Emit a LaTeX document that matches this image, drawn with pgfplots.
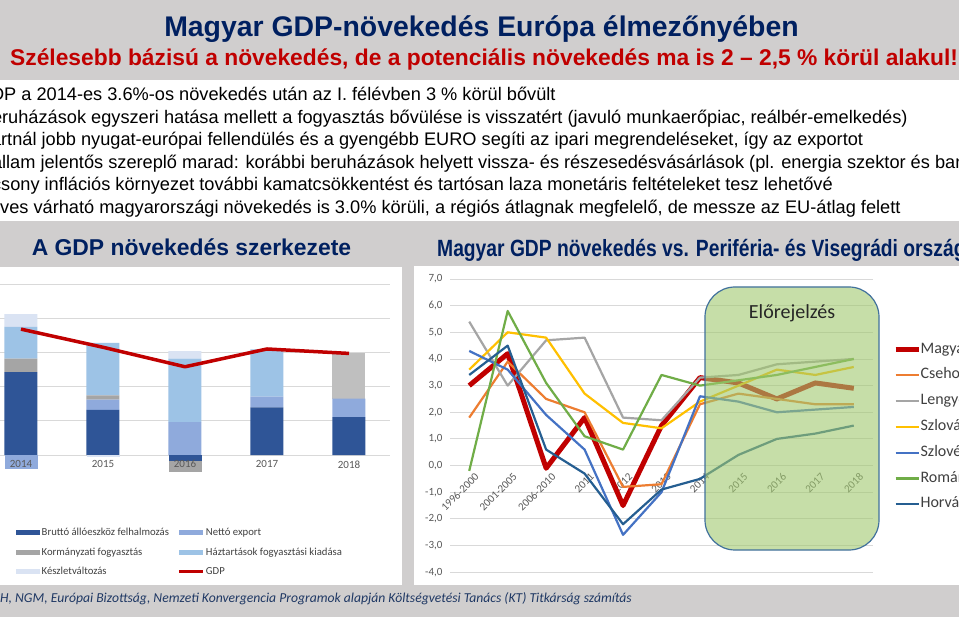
\documentclass[border=0pt]{standalone}
\usepackage{fontspec}
\setmainfont{Liberation Sans}
\newfontfamily\calibri{Carlito}
\usepackage{pgfplots}
\pgfplotsset{compat=1.18}

\definecolor{hdrgray}{RGB}{208,206,206}
\definecolor{navy}{RGB}{0,32,96}
\definecolor{darkred}{RGB}{192,0,0}
\definecolor{gridc}{RGB}{217,217,217}
\definecolor{ticktext}{RGB}{89,89,89}
\definecolor{legtext}{RGB}{64,64,64}
\definecolor{brutto}{RGB}{47,85,151}
\definecolor{netto}{RGB}{143,170,220}
\definecolor{korm}{RGB}{165,165,165}
\definecolor{korm2}{RGB}{191,191,191}
\definecolor{haztart}{RGB}{157,195,230}
\definecolor{keszlet}{RGB}{218,227,243}
\definecolor{cseh}{RGB}{237,125,49}
\definecolor{lengy}{RGB}{165,165,165}
\definecolor{szlovak}{RGB}{255,192,0}
\definecolor{szloven}{RGB}{68,114,196}
\definecolor{roman}{RGB}{112,173,71}
\definecolor{horvat}{RGB}{37,94,145}
\definecolor{boxfill}{RGB}{160,200,110}
\definecolor{boxline}{RGB}{65,113,156}
\definecolor{footc}{RGB}{31,56,100}

\pgfplotsset{
  leftax/.style={at={(-20pt,-455pt)}, anchor=south west, scale only axis,
    width=410pt, height=171pt, xmin=-0.5, xmax=4.5, ymin=0, ymax=5, clip=false},
}

\begin{document}
\begin{tikzpicture}
\useasboundingbox (0pt,0pt) rectangle (959pt,-617pt);
\clip (0pt,0pt) rectangle (959pt,-617pt);

% slide backgrounds
\fill[hdrgray] (0pt,0pt) rectangle (959pt,-80pt);
\fill[hdrgray] (0pt,-221pt) rectangle (959pt,-617pt);
\fill[white] (0pt,-267pt) rectangle (402pt,-585pt);
\fill[white] (414pt,-266pt) rectangle (959pt,-585pt);

% header
\node[anchor=base, inner sep=0pt, font=\fontsize{28.4}{32}\selectfont\bfseries, text=navy]
  at (481.5pt,-36.7pt) {Magyar GDP-növekedés Európa élmezőnyében};
\node[anchor=base west, inner sep=0pt, font=\fontsize{22.8}{26}\selectfont\bfseries, text=darkred]
  at (10pt,-65.7pt) {Szélesebb bázisú a növekedés, de a potenciális növekedés ma is 2 – 2,5 \% körül alakul!};

% bullet text
\begin{scope}[every node/.style={anchor=base west, inner sep=0pt, font=\fontsize{18.2}{21}\selectfont}]
\node at (4pt,-101pt) {\llap{A GD}P a 2014-es 3.6\%-os növekedés után az I. félévben 3 \% körül bővült};
\node at (2pt,-123.5pt) {\llap{A be}ruházások egyszeri hatása mellett a fogyasztás bővülése is visszatért (javuló munkaerőpiac, reálbér-emelkedés)};
\node at (1pt,-146pt) {\llap{A vá}rtnál jobb nyugat-európai fellendülés és a gyengébb EURO segíti az ipari megrendeléseket, így az exportot};
\node at (6pt,-168.5pt) {\llap{Az ál}lam jelentős szereplő marad: korábbi beruházások helyett vissza- és részesedésvásárlások (pl. energia szektor és bankok)};
\node at (1pt,-191pt) {\llap{Az alac}sony inflációs környezet további kamatcsökkentést és tartósan laza monetáris feltételeket tesz lehetővé};
\node at (0pt,-213.5pt) {\llap{Az é}ves várható magyarországi növekedés is 3.0\% körüli, a régiós átlagnak megfelelő, de messze az EU-átlag felett};
\end{scope}

% panel titles
\node[anchor=base, inner sep=0pt, font=\fontsize{22.9}{26}\selectfont\bfseries, text=navy]
  at (191.5pt,-256pt) {A GDP növekedés szerkezete};
\node[anchor=base west, inner sep=0pt, font=\fontsize{23.5}{26}\selectfont\bfseries, text=navy]
  at (437pt,-257pt) {\scalebox{0.82}[1]{Magyar GDP növekedés vs. Periféria- és Visegrádi országok}};

% footer
\node[anchor=base east, inner sep=0pt, font=\calibri\itshape\fontsize{13.65}{17}\selectfont, text=footc]
  at (632pt,-602pt) {Forrás: KSH, NGM, Európai Bizottság, Nemzeti Konvergencia Programok alapján Költségvetési Tanács (KT) Titkárság számítás};

% ---- left chart: grid and positive parts of the stack
\begin{axis}[leftax, ybar stacked, bar width=33pt,
  xtick={0,...,4}, xticklabels={},
  ytick={0,...,5}, yticklabels={}, ymajorgrids,
  grid style={gridc, line width=0.9pt},
  axis line style={draw=none}, major tick length=0pt,
  legend columns=2, legend cell align=left,
  legend image code/.code={\fill[#1] (0pt,-2.5pt) rectangle (24pt,2.5pt);},
  legend style={at={(0.0878,-0.4152)}, anchor=north west, draw=none, fill=none,
    inner sep=0pt, font=\calibri\fontsize{10.7}{13}\selectfont, text=legtext,
    row sep=6pt, nodes={inner sep=1.5pt, text height=8pt, text depth=2.5pt},
    /tikz/every even column/.append style={column sep=7pt}},
]
\addplot[fill=brutto, draw=none] coordinates {(0,2.42) (1,1.32) (2,0) (3,1.39) (4,1.11)};
\addlegendentry{Bruttó állóeszköz felhalmozás}
\addplot[fill=netto, draw=none] coordinates {(0,0) (1,0.30) (2,0.96) (3,0.32) (4,0.54)};
\addlegendentry{Nettó export}
\addplot[fill=korm, draw=none] coordinates {(0,0.40) (1,0.12) (2,0) (3,0) (4,0)};
\addlegendentry{Kormányzati fogyasztás}
\addplot[fill=korm2, draw=none, forget plot] coordinates {(0,0) (1,0) (2,0) (3,0) (4,1.32)};
\addplot[fill=haztart, draw=none] coordinates {(0,0.93) (1,1.54) (2,1.86) (3,1.38) (4,0)};
\addlegendentry{Háztartások fogyasztási kiadása}
\addplot[fill=keszlet, draw=none] coordinates {(0,0.37) (1,0) (2,0.22) (3,0) (4,0)};
\addlegendentry{Készletváltozás}
\addlegendimage{legend image code/.code={\draw[darkred, line width=3pt] (0pt,0pt) -- (24pt,0pt);}}
\addlegendentry{GDP}
\end{axis}

% ---- left chart: negative parts of the stack
\begin{axis}[leftax, hide axis, ybar stacked, bar width=33pt]
\addplot[fill=brutto, draw=none] coordinates {(0,0) (1,0) (2,-0.17) (3,0) (4,0)};
\addplot[fill=netto, draw=none] coordinates {(0,-0.40) (1,0) (2,0) (3,0) (4,0)};
\addplot[fill=korm, draw=none] coordinates {(0,0) (1,0) (2,-0.33) (3,0) (4,0)};
\addplot[fill=keszlet, draw=none] coordinates {(0,0) (1,-0.06) (2,0) (3,0) (4,0)};
\end{axis}

% ---- left chart: GDP line and year labels on top
\begin{axis}[leftax, axis line style={draw=none}, major tick length=0pt,
  xtick={0,...,4}, xticklabels={2014,2015,2016,2017,2018}, ytick=\empty,
  xticklabel style={font=\calibri\fontsize{11}{13}\selectfont, text=ticktext, yshift=-2pt}]
\addplot[darkred, line width=3.5pt, line join=round] coordinates {(0,3.68) (1,3.15) (2,2.58) (3,3.10) (4,2.97)};
\end{axis}

% ---- right chart
\begin{axis}[at={(450pt,-279pt)}, anchor=north west, scale only axis,
  width=423pt, height=293.2pt, xmin=-0.5, xmax=10.5, ymin=-4, ymax=7,
  xtick={0,...,10},
  xticklabels={1996-2000,2001-2005,2006-2010,2011,2012,2013,2014,2015,2016,2017,2018},
  ytick={-4,...,7}, ymajorgrids, grid style={gridc, line width=0.9pt},
  axis x line=middle, axis y line=left, axis line style={draw=none},
  major tick length=0pt, clip=false,
  yticklabel style={font=\calibri\fontsize{11}{13}\selectfont, text=ticktext, xshift=-4pt,
    /pgf/number format/.cd, fixed, fixed zerofill, precision=1, use comma, assume math mode=true},
  xticklabel style={font=\calibri\fontsize{11}{13}\selectfont, text=ticktext, rotate=45,
    anchor=north east, xshift=2pt, yshift=-5pt},
  legend cell align=left,
  legend image code/.code={\draw[#1] (0pt,0pt) -- (23pt,0pt);},
  legend style={at={(1.047,0.789)}, anchor=north west, draw=none, fill=none,
    inner sep=0pt, font=\calibri\fontsize{16}{19}\selectfont, text=legtext,
    row sep=8.8pt, nodes={inner sep=1pt, text height=11pt, text depth=4pt},
    /tikz/every odd column/.append style={column sep=-1.5pt}},
  every axis plot/.append style={line width=2.2pt, line join=round},
]
\addplot[darkred, line width=5pt] coordinates {(0,3.0) (1,4.2) (2,-0.1) (3,1.8) (4,-1.5) (5,1.5) (6,3.3) (7,3.1) (8,2.5) (9,3.1) (10,2.9)};
\addlegendentry{Magyarország}
\addplot[cseh] coordinates {(0,1.8) (1,3.9) (2,2.5) (3,2.0) (4,-0.8) (5,-0.7) (6,2.3) (7,2.7) (8,2.5) (9,2.3) (10,2.3)};
\addlegendentry{Csehország}
\addplot[lengy] coordinates {(0,5.4) (1,3.0) (2,4.7) (3,4.8) (4,1.8) (5,1.7) (6,3.3) (7,3.4) (8,3.8) (9,3.9) (10,4.0)};
\addlegendentry{Lengyelország}
\addplot[szlovak] coordinates {(0,3.6) (1,5.0) (2,4.8) (3,2.7) (4,1.6) (5,1.4) (6,2.4) (7,3.0) (8,3.6) (9,3.4) (10,3.7)};
\addlegendentry{Szlovákia}
\addplot[szloven] coordinates {(0,4.3) (1,3.6) (2,1.9) (3,0.6) (4,-2.6) (5,-1.0) (6,2.6) (7,2.4) (8,2.0) (9,2.1) (10,2.2)};
\addlegendentry{Szlovénia}
\addplot[roman] coordinates {(0,-0.2) (1,5.8) (2,3.1) (3,1.1) (4,0.6) (5,3.4) (6,3.0) (7,3.2) (8,3.4) (9,3.7) (10,4.0)};
\addlegendentry{Románia}
\addplot[horvat] coordinates {(0,3.4) (1,4.5) (2,0.6) (3,-0.3) (4,-2.2) (5,-0.9) (6,-0.5) (7,0.4) (8,1.0) (9,1.2) (10,1.5)};
\addlegendentry{Horvátország}
\end{axis}

% forecast box
\draw[boxline, line width=1.2pt, fill=boxfill, fill opacity=0.6, rounded corners=30pt]
  (705pt,-287pt) rectangle (879pt,-550pt);
\node[font=\calibri\fontsize{20}{24}\selectfont, text=black!85] at (792pt,-313pt) {Előrejelzés};
\end{tikzpicture}
\end{document}
